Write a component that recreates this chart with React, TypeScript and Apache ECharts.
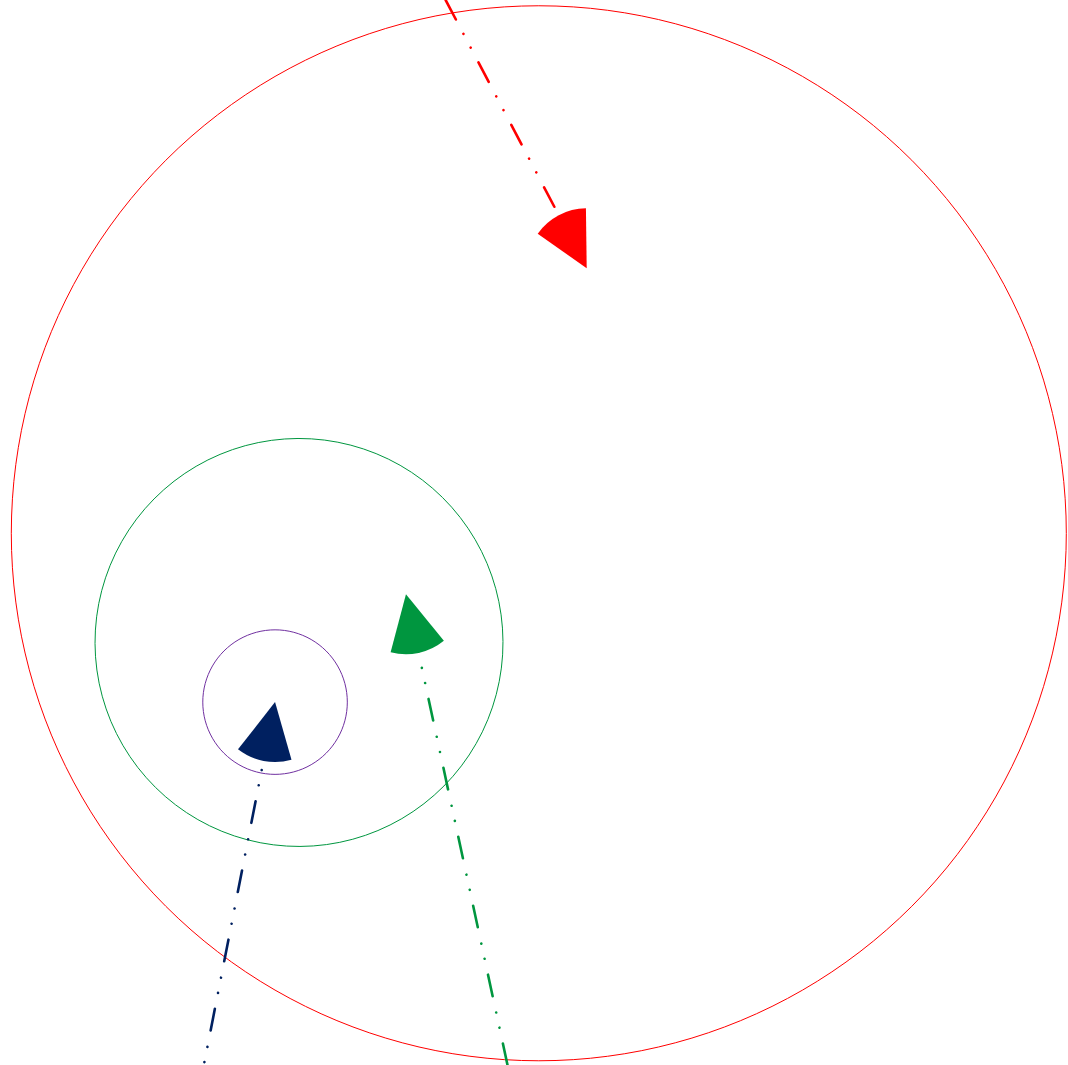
import React, { useEffect, useRef } from "react";
import * as echarts from "echarts";

// ---- data (chart units; the outer zone has radius 100) ----
const zoneNames = ["outer zone", "middle zone", "inner zone"];
const zoneCenterX = [0, -45.46, -50.0];
const zoneCenterY = [0, -20.51, -32.0];
const zoneRadius = [100, 38.67, 13.7];

const vesselNames = ["red", "green", "navy"];
const vesselX = [9.08, -25.18, -50.0];
const vesselY = [50.24, -11.56, -32.0];
const trailStartX = [-23.5, -4.1, -65.4];
const trailStartY = [112.2, -109.3, -110.5];

const axisMin = -100;
const axisMax = 100;

// ---- styles ----
const zoneColors = ["#FF0000", "#00963F", "#7030A0"];
const vesselColors = ["#FF0000", "#00963F", "#002060"];
const dashOffsets = [1.35, 34.35, 39.65];
const trailDash = [22, 16.75, 0.01, 15.5, 0.01, 16.25];
const trailInsetPx = 20;
const sectorRadiusPx = 60;
const sectorHalfSpan = (27 * Math.PI) / 180;

export default function App() {
  const ref = useRef<HTMLDivElement>(null);

  useEffect(() => {
    if (!ref.current) return;
    const chart = echarts.init(ref.current, null, { renderer: "svg" });

    const zoneData = zoneNames.map((n, i) => ({
      name: n,
      value: [zoneCenterX[i], zoneCenterY[i], zoneRadius[i]],
    }));
    const vesselData = vesselNames.map((n, i) => ({
      name: n,
      value: [vesselX[i], vesselY[i], trailStartX[i], trailStartY[i]],
    }));

    chart.setOption({
      animation: false,
      backgroundColor: "#ffffff",
      grid: { left: 11.3, top: 5.8, width: 1055, height: 1055 },
      xAxis: { type: "value", min: axisMin, max: axisMax, show: false },
      yAxis: { type: "value", min: axisMin, max: axisMax, show: false },
      series: [
        {
          type: "custom",
          name: "zones",
          coordinateSystem: "cartesian2d",
          clip: false,
          silent: true,
          data: zoneData,
          renderItem: (params: any, api: any) => {
            const c = api.coord([api.value(0), api.value(1)]);
            const r = api.size([api.value(2), 0])[0];
            return {
              type: "circle",
              shape: { cx: c[0], cy: c[1], r },
              style: { fill: "none", stroke: zoneColors[params.dataIndex], lineWidth: 1 },
            };
          },
        },
        {
          type: "custom",
          name: "trails",
          coordinateSystem: "cartesian2d",
          clip: false,
          silent: true,
          data: vesselData,
          renderItem: (params: any, api: any) => {
            const p0 = api.coord([api.value(0), api.value(1)]);
            const p1 = api.coord([api.value(2), api.value(3)]);
            const dx = p1[0] - p0[0];
            const dy = p1[1] - p0[1];
            const len = Math.sqrt(dx * dx + dy * dy) || 1;
            const s = [p0[0] + (dx / len) * trailInsetPx, p0[1] + (dy / len) * trailInsetPx];
            const i = params.dataIndex;
            return {
              type: "polyline",
              shape: { points: [s, p1] },
              style: {
                fill: "none",
                stroke: vesselColors[i],
                lineWidth: 2.6,
                lineDash: trailDash,
                lineDashOffset: dashOffsets[i] + trailInsetPx,
                lineCap: "round",
              },
            };
          },
        },
        {
          type: "custom",
          name: "vessels",
          coordinateSystem: "cartesian2d",
          clip: false,
          silent: true,
          data: vesselData,
          renderItem: (params: any, api: any) => {
            const p0 = api.coord([api.value(0), api.value(1)]);
            const p1 = api.coord([api.value(2), api.value(3)]);
            const back = Math.atan2(p1[1] - p0[1], p1[0] - p0[0]);
            return {
              type: "sector",
              shape: {
                cx: p0[0],
                cy: p0[1],
                r0: 0,
                r: sectorRadiusPx,
                startAngle: back - sectorHalfSpan,
                endAngle: back + sectorHalfSpan,
                clockwise: true,
              },
              style: { fill: vesselColors[params.dataIndex], stroke: "none" },
            };
          },
        },
      ],
    });

    return () => chart.dispose();
  }, []);

  return (
    <div
      ref={ref}
      style={{ position: "fixed", left: 0, top: 0, width: 1068, height: 1065, background: "#fff" }}
    />
  );
}
